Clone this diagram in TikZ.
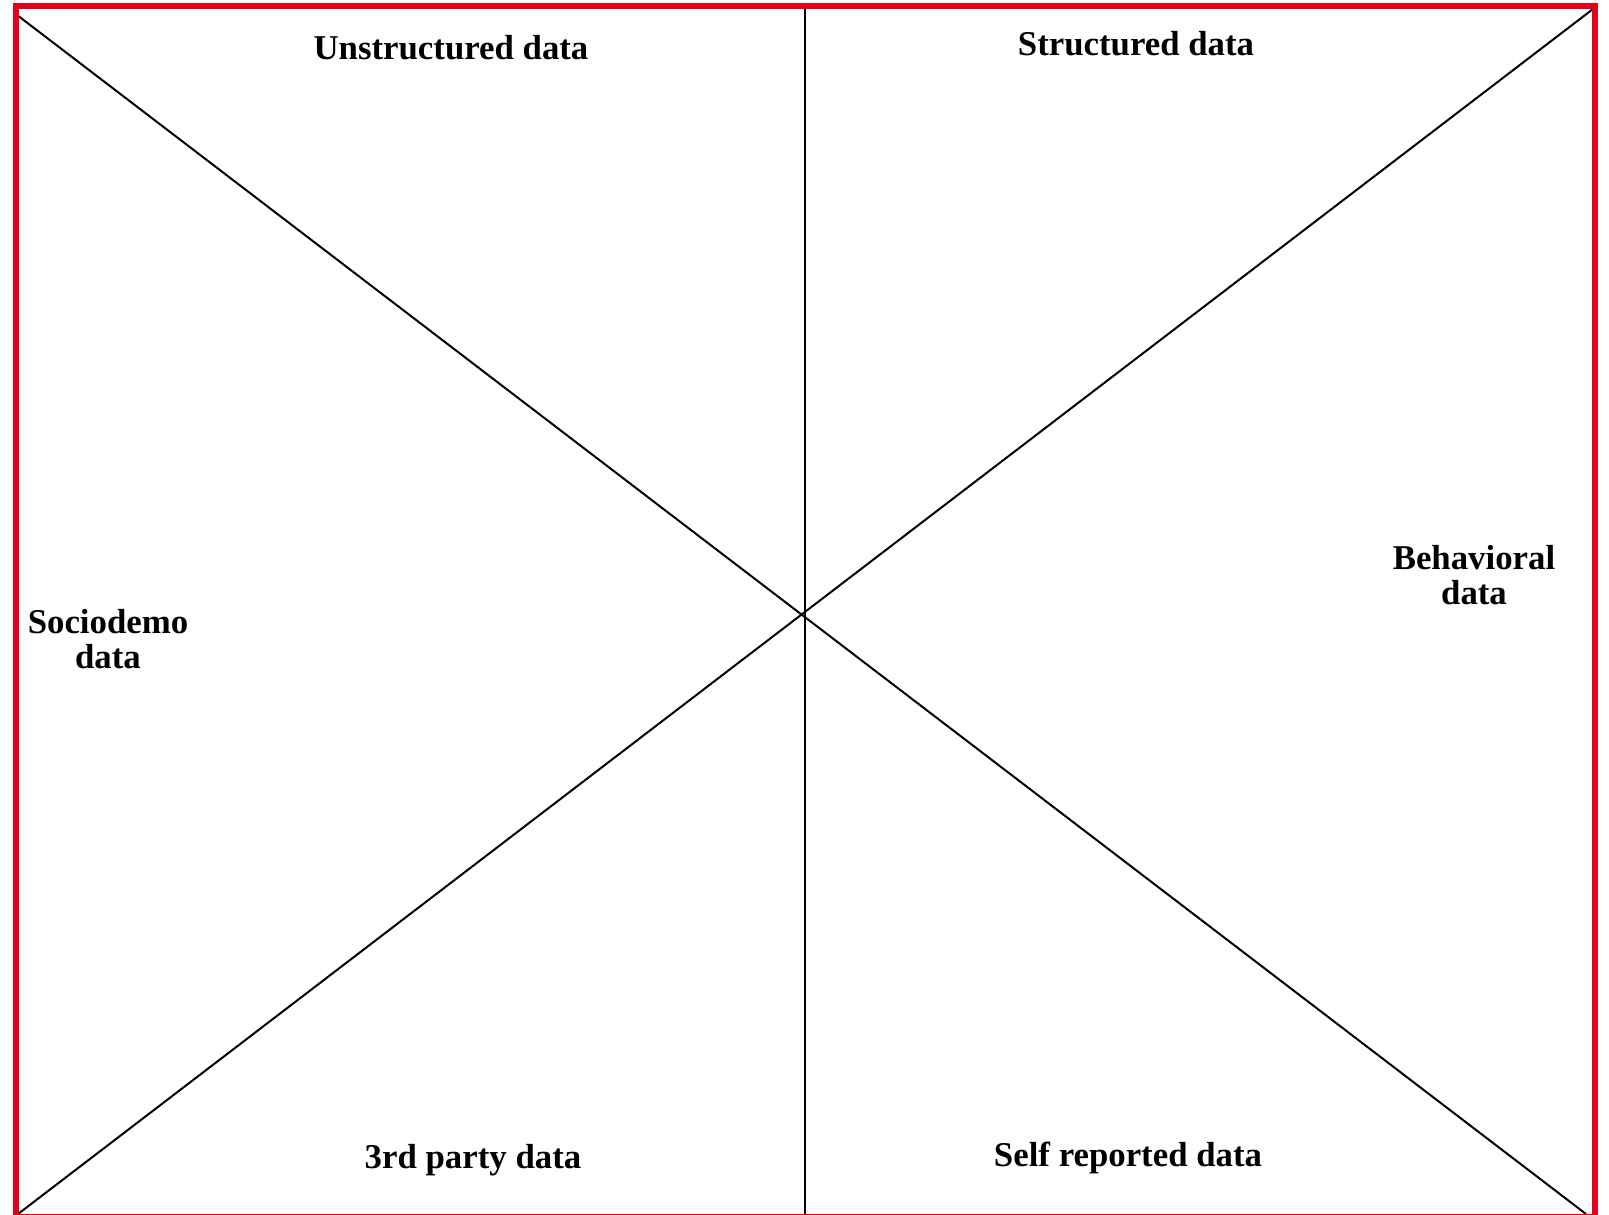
\documentclass[tikz,border=0pt]{standalone}
\usepackage{fontspec}
\setmainfont{Liberation Serif}
\definecolor{vermelho}{RGB}{226,0,26}
\tikzset{
  rotulo/.style={font=\fontsize{17.4}{17.5}\selectfont\bfseries, align=center, inner sep=0pt},
  linha/.style={line width=1pt, black}
}
\begin{document}
\begin{tikzpicture}[x=0.5pt, y=-0.5pt] %Escala em pixels
	\useasboundingbox (0,0) rectangle (1609,1214); %Margens
		%Cantos
	\coordinate (se) at (17,15);
	\coordinate (sd) at (1593,9);
	\coordinate (ie) at (18,1214);
	\coordinate (id) at (1586,1214);
	\coordinate (topo) at (805,6);
	\coordinate (base) at (805,1214);
		%Retas
	\draw[linha] (se) -- (id); %Diagonal descendente
	\draw[linha] (sd) -- (ie); %Diagonal ascendente
	\draw[linha] (topo) -- (base); %Reta vertical
		%Moldura
	\draw[vermelho, line width=3pt] (16,6.5) rectangle (1595,1217);
		%Rotulos
	\node[rotulo] (naoestr) at (451,48) {Unstructured data};
	\node[rotulo] (estr) at (1136,44) {Structured data};
	\node[rotulo] (socio) at (108,639) {Sociodemo\\data};
	\node[rotulo] (comport) at (1474,575) {Behavioral\\data};
	\node[rotulo] (terceiros) at (473,1160) {3rd party data};
	\node[rotulo] (autodecl) at (1128,1158) {Self reported data};
\end{tikzpicture}
\end{document}
